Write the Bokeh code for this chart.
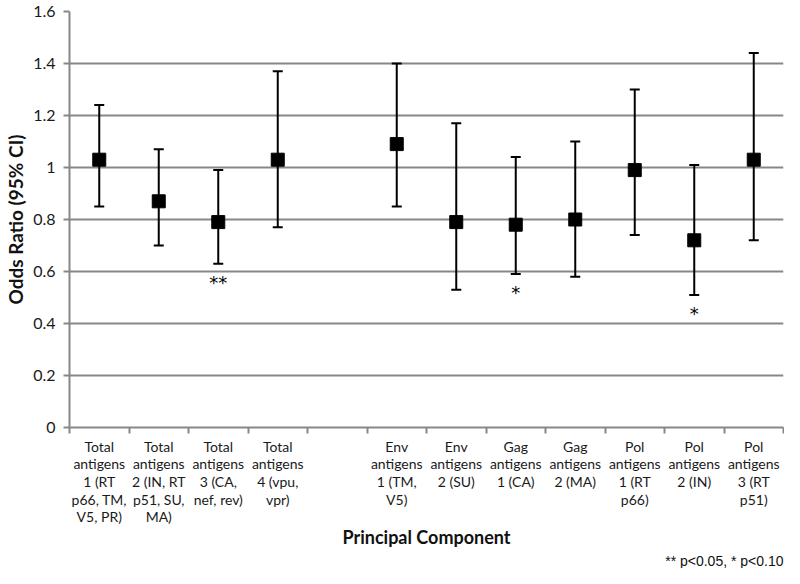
from bokeh.plotting import figure
from bokeh.models import ColumnDataSource, Whisker, FixedTicker, Range1d, TeeHead, Title
from bokeh.core.properties import value
from bokeh.embed import file_html
from bokeh.resources import INLINE

# ---- data ----
slot_labels = [
    "Total\nantigens\n1 (RT\np66, TM,\nV5, PR)",
    "Total\nantigens\n2 (IN, RT\np51, SU,\nMA)",
    "Total\nantigens\n3 (CA,\nnef, rev)",
    "Total\nantigens\n4 (vpu,\nvpr)",
    "",
    "Env\nantigens\n1 (TM,\nV5)",
    "Env\nantigens\n2 (SU)",
    "Gag\nantigens\n1 (CA)",
    "Gag\nantigens\n2 (MA)",
    "Pol\nantigens\n1 (RT\np66)",
    "Pol\nantigens\n2 (IN)",
    "Pol\nantigens\n3 (RT\np51)",
]
point_slots = [1, 2, 3, 4, 6, 7, 8, 9, 10, 11, 12]
odds_ratio = [1.03, 0.87, 0.79, 1.03, 1.09, 0.79, 0.78, 0.80, 0.99, 0.72, 1.03]
ci_lower = [0.85, 0.70, 0.63, 0.77, 0.85, 0.53, 0.59, 0.58, 0.74, 0.51, 0.72]
ci_upper = [1.24, 1.07, 0.99, 1.37, 1.40, 1.17, 1.04, 1.10, 1.30, 1.01, 1.44]
significance = ["", "", "**", "", "", "", "*", "", "", "*", ""]
y_ticks = [0, 0.2, 0.4, 0.6, 0.8, 1.0, 1.2, 1.4, 1.6]
y_tick_labels = ["0", "0.2", "0.4", "0.6", "0.8", "1", "1.2", "1.4", "1.6"]
x_title = "Principal Component"
y_title = "Odds Ratio (95% CI)"
footnote = "** p<0.05, * p<0.10"

GREY = "#878787"
FONT = "Lato"

src = ColumnDataSource(dict(x=point_slots, orr=odds_ratio, lower=ci_lower,
                            upper=ci_upper, sig=significance))

n = len(slot_labels)
p = figure(width=784, height=568, output_backend="svg", toolbar_location=None,
           x_range=Range1d(0.5, n + 0.5), y_range=Range1d(0, 1.6),
           min_border_left=69, min_border_right=1, min_border_top=11,
           min_border_bottom=141)
p.outline_line_color = None
p.background_fill_color = "white"
p.border_fill_color = "white"

# axes
xa = p.xaxis[0]
xa.ticker = FixedTicker(ticks=list(range(1, n + 1)),
                        minor_ticks=[i + 0.5 for i in range(0, n + 1)])
xa.major_label_overrides = {i + 1: lab for i, lab in enumerate(slot_labels)}
xa.major_tick_line_color = None
xa.minor_tick_line_color = GREY
xa.minor_tick_line_width = 2
xa.minor_tick_out = 6
xa.minor_tick_in = 0
xa.axis_line_color = GREY
xa.axis_line_width = 2
xa.major_label_text_font = FONT
xa.major_label_text_font_size = "14px"
xa.major_label_text_color = "#1a1a1a"
xa.major_label_text_line_height = 1.04
xa.major_label_standoff = 4
xa.axis_label = x_title
xa.axis_label_text_font = FONT
xa.axis_label_text_font_style = "bold"
xa.axis_label_text_font_size = "18px"
xa.axis_label_text_color = "#111111"
xa.axis_label_standoff = -2

ya = p.yaxis[0]
ya.ticker = FixedTicker(ticks=y_ticks)
ya.major_label_overrides = {t: l for t, l in zip(y_ticks, y_tick_labels)}
ya.minor_tick_line_color = None
ya.major_tick_line_color = GREY
ya.major_tick_line_width = 2
ya.major_tick_out = 6
ya.major_tick_in = 0
ya.axis_line_color = GREY
ya.axis_line_width = 2
ya.major_label_text_font = FONT
ya.major_label_text_font_size = "16px"
ya.major_label_text_color = "#1a1a1a"
ya.major_label_standoff = 8
ya.axis_label = y_title
ya.axis_label_text_font = FONT
ya.axis_label_text_font_style = "bold"
ya.axis_label_text_font_size = "19px"
ya.axis_label_text_color = "#111111"
ya.axis_label_standoff = 3

p.xgrid.grid_line_color = None
p.ygrid.grid_line_color = GREY
p.ygrid.grid_line_width = 2

# error bars
wh = Whisker(base="x", lower="lower", upper="upper", source=src,
             line_color="black", line_width=2,
             lower_head=TeeHead(size=10, line_color="black", line_width=2),
             upper_head=TeeHead(size=10, line_color="black", line_width=2))
wh.level = "glyph"
p.add_layout(wh)

p.scatter("x", "orr", source=src, marker="square", size=13,
          fill_color="black", line_color="black")

# significance stars
p.text("x", "lower", text="sig", source=src, text_align="center",
       text_baseline="top", y_offset=8, text_font=value("DejaVu Sans"),
       text_font_size="18px", text_color="black")

# footnote
p.add_layout(Title(text=footnote, align="right", text_font="Liberation Sans",
                   text_font_style="normal", text_font_size="14px",
                   text_color="#111111", standoff=-2), "below")

open("out.html", "w").write(file_html(p, INLINE))
